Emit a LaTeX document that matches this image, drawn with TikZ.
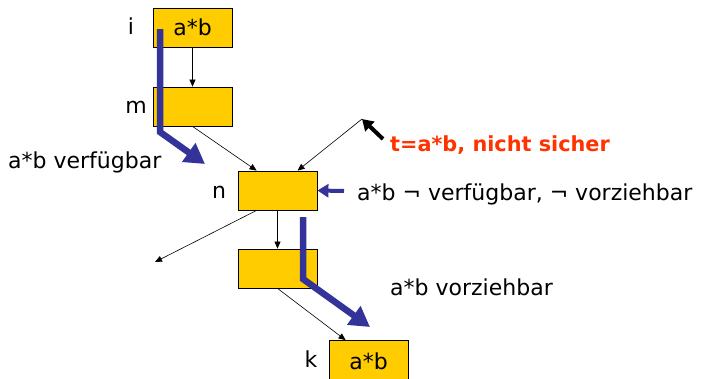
\documentclass[tikz,border=0pt]{standalone}
\usepackage{fontspec}
\setmainfont{DejaVu Sans}
\usetikzlibrary{arrows.meta}
\definecolor{boxfill}{HTML}{FFCC00}
\definecolor{flowblue}{HTML}{333399}
\definecolor{warnred}{HTML}{FF3300}
\tikzset{
  blk/.style={draw=black, line width=0.8pt, fill=boxfill, minimum width=79pt, minimum height=39pt, inner sep=0pt,
    font=\fontsize{22}{26}\selectfont},
  edge/.style={draw=black, line width=0.6pt, -{Triangle[length=7pt,width=6pt]}},
  flow/.style={draw=flowblue, line width=6.5pt, -{Triangle[length=20pt,width=22pt]}},
  hint/.style={line width=4pt, -{Triangle[length=11pt,width=13pt]}},
  lbl/.style={font=\fontsize{22}{26}\selectfont, inner sep=0pt, anchor=base},
  txt/.style={font=\fontsize{22}{26}\selectfont, inner sep=0pt, anchor=base west},
  redtxt/.style={font=\fontsize{20.8}{24}\selectfont\bfseries, text=warnred, inner sep=0pt, anchor=base west}
}
\begin{document}
\begin{tikzpicture}[x=1pt,y=-1pt]
\useasboundingbox (0,0) rectangle (703,378);
% blocks
\node[blk] (i) at (192.5,27.5) {};
\node[lbl] at (192.5,35) {a*b};
\node[blk] (m) at (192.5,106.5) {};
\node[blk] (n) at (277.5,190.5) {};
\node[blk] (b4) at (277.5,268.5) {};
\node[blk] (k) at (368.5,360) {};
\node[lbl] at (368.5,369) {a*b};
% block labels
\node[lbl] (li) at (131,34) {i};
\node[lbl] (lm) at (136,113) {m};
\node[lbl] (ln) at (219,198) {n};
\node[lbl] (lk) at (311,367) {k};
% free ends
\coordinate (c1) at (362,119);
\coordinate (c2) at (155,262);
% thin edges
\draw[edge] (i.south) -- (m.north);
\draw[edge] (m.south) -- ([xshift=19pt]n.north west);
\draw[edge] (c1) -- ([xshift=60pt]n.north west);
\draw[edge] (n.south) -- (b4.north);
\draw[edge] ([xshift=19pt]n.south west) -- (c2);
\draw[edge] (b4.south) -- ([xshift=17pt]k.north west);
% blue flow arrows
\coordinate (f1s) at (160,29);
\coordinate (f1e) at (205,164);
\draw[flow] (f1s) -- (160,132) -- (f1e);
\coordinate (f2s) at (303,217);
\coordinate (f2e) at (370,327);
\draw[flow] (f2s) -- (303,279) -- (f2e);
\coordinate (h1s) at (344,191);
\draw[hint, draw=flowblue] (h1s) -- (n.east);
\coordinate (h2s) at (383,139);
\draw[hint, draw=black] (h2s) -- (c1);
% texts
\node[txt] (t1) at (8,168) {a*b verfügbar};
\node[redtxt] (t2) at (390,151) {t=a*b, nicht sicher};
\node[txt] (t3) at (357,200) {a*b ¬ verfügbar, ¬ vorziehbar};
\node[txt] (t4) at (390,295) {a*b vorziehbar};
\end{tikzpicture}
\end{document}
